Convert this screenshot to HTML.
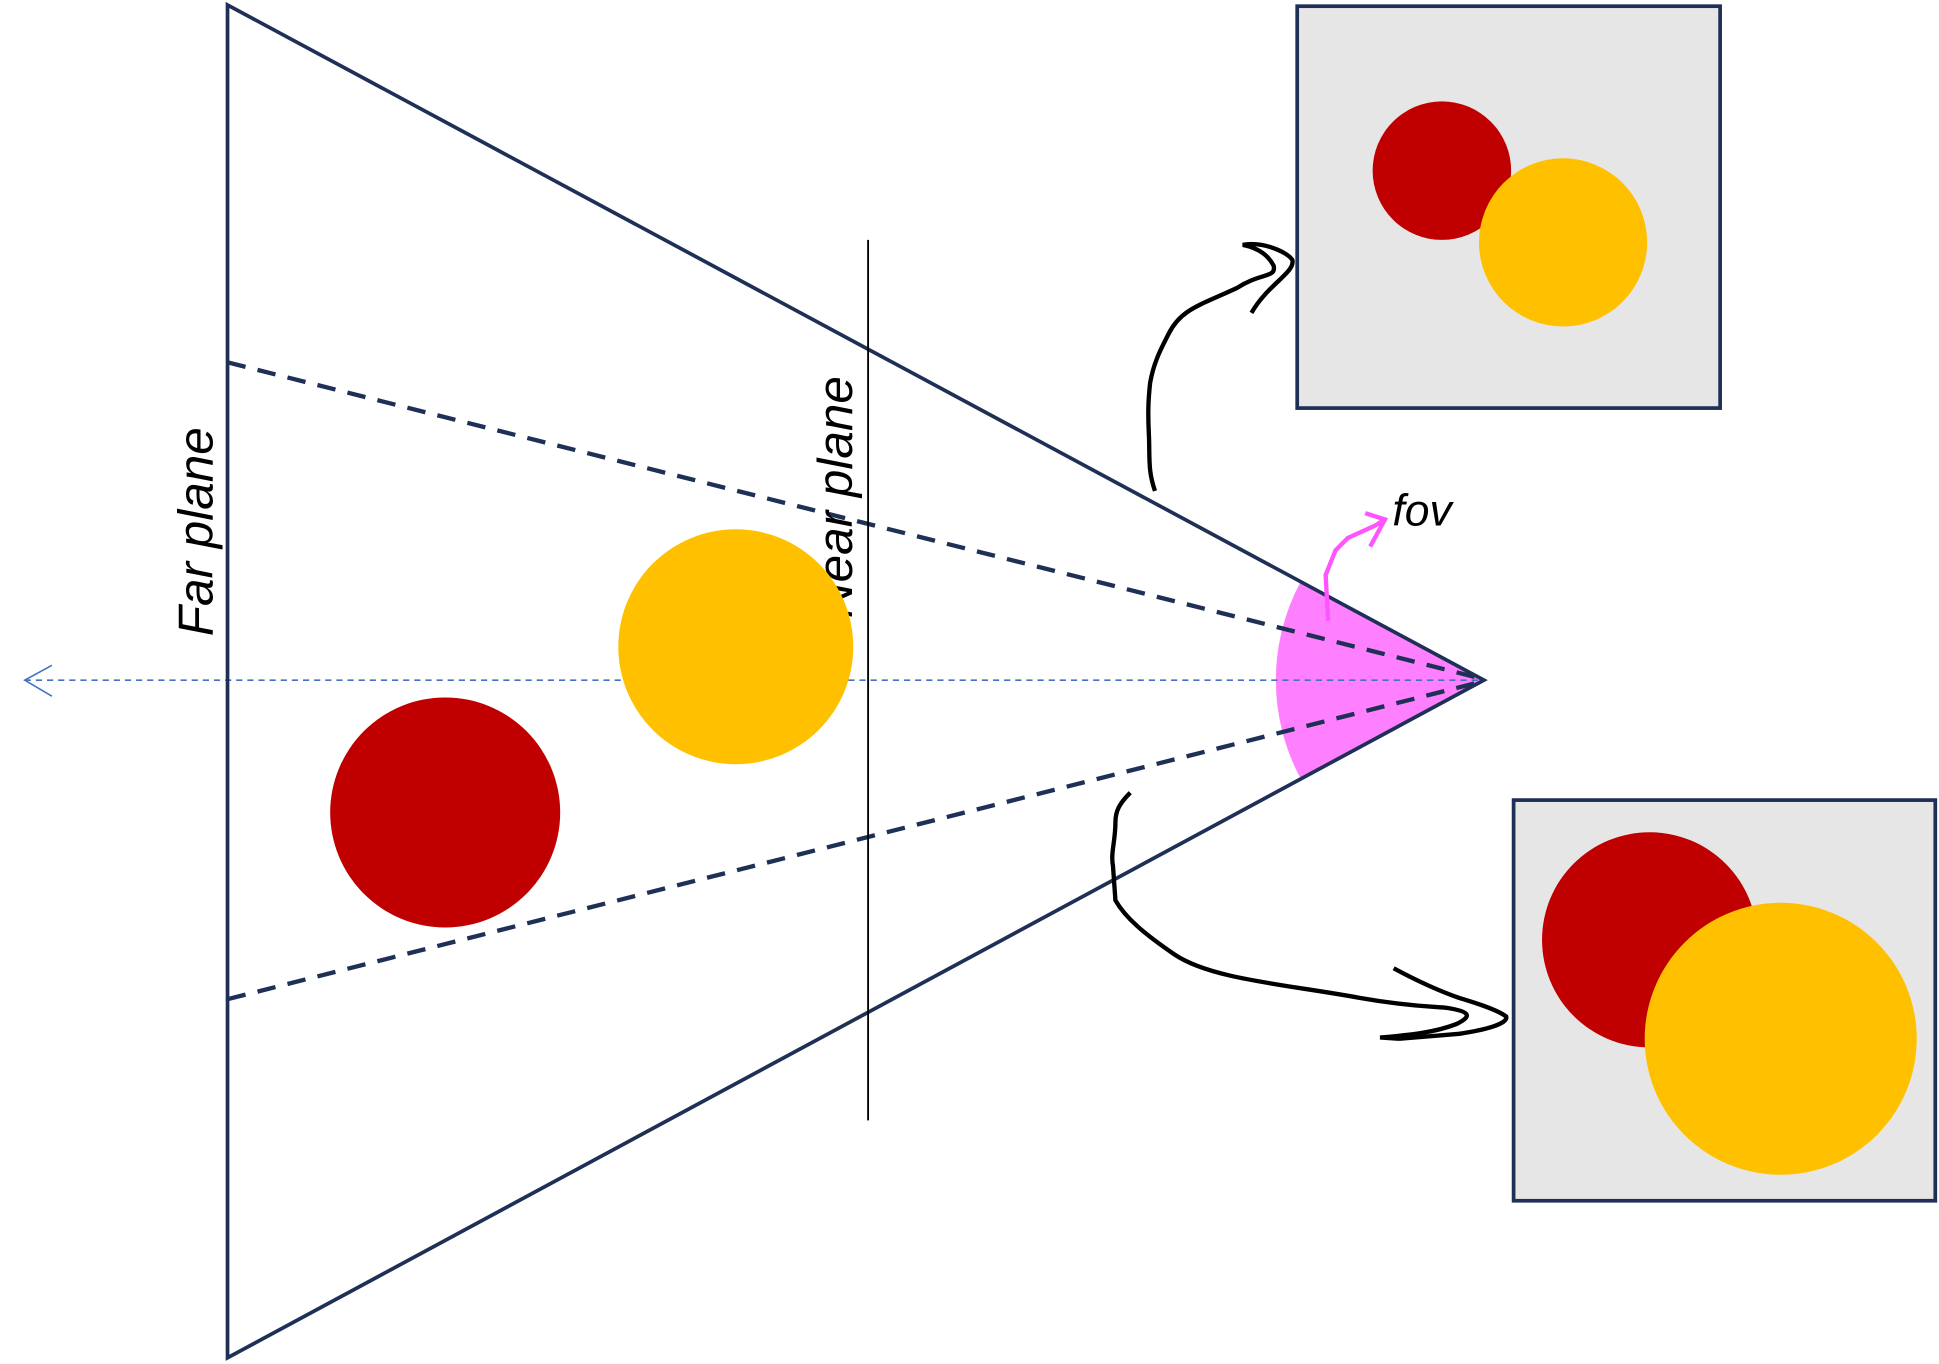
<!DOCTYPE html>
<html><head><style>html,body{margin:0;padding:0;background:#fff;overflow:hidden}svg{display:block}</style></head>
<body>
<svg width="1939" height="1364" viewBox="0 0 1568 1103" xmlns="http://www.w3.org/2000/svg">
<rect width="1568" height="1103" fill="#fff"/>
<path d="M1200,550 L1052,470 A168,168 0 0 0 1052,630 Z" fill="#ff80ff"/>
<line x1="20" y1="550" x2="1200" y2="550" stroke="#4472c4" stroke-width="1.3" stroke-dasharray="5,4"/>
<polyline points="42,538 20,550 42,563" fill="none" stroke="#4472c4" stroke-width="1.3"/>
<polygon points="184,4 1200,550 184,1098" fill="none" stroke="#1f3057" stroke-width="3"/>
<line x1="184" y1="293" x2="1195" y2="548" stroke="#1f3057" stroke-width="3.5" stroke-dasharray="15,10"/>
<line x1="184" y1="808" x2="1195" y2="552" stroke="#1f3057" stroke-width="3.5" stroke-dasharray="15,10"/>
<line x1="702" y1="194" x2="702" y2="906" stroke="#000" stroke-width="1.5"/>
<text transform="translate(172,430) rotate(-90)" text-anchor="middle" font-family="Liberation Sans, sans-serif" font-style="italic" font-size="40">Far plane</text>
<text transform="translate(689,402) rotate(-90)" text-anchor="middle" font-family="Liberation Sans, sans-serif" font-style="italic" font-size="40">Near plane</text>
<circle cx="595" cy="523" r="95" fill="#ffc000"/>
<circle cx="360" cy="657" r="93" fill="#c00000"/>
<rect x="1049" y="5" width="342" height="325" fill="#e6e6e6" stroke="#1f3057" stroke-width="3"/>
<circle cx="1166" cy="138" r="56" fill="#c00000"/>
<circle cx="1264" cy="196" r="68" fill="#ffc000"/>
<rect x="1224" y="647" width="341" height="324" fill="#e6e6e6" stroke="#1f3057" stroke-width="3"/>
<circle cx="1334" cy="760" r="87" fill="#c00000"/>
<circle cx="1440" cy="840" r="110" fill="#ffc000"/>
<text x="1126" y="425" font-family="Liberation Sans, sans-serif" font-style="italic" font-size="36">fov</text>
<path d="M1074,502 L1072,465 L1080,445 L1090,435 L1112,425 L1120,420" fill="none" stroke="#ff55ff" stroke-width="3.5"/>
<path d="M1104,415 L1120,420 L1108,442" fill="none" stroke="#ff55ff" stroke-width="3.5"/>
<path d="M934,397 C928,380 930,370 929,350 C928,330 929,320 930,310 C933,292 940,280 945,270 C955,250 970,247 1000,233 C1020,220 1032,225 1030,215 C1025,205 1015,200 1005,198 C1020,195 1040,203 1045,210 C1048,220 1025,230 1012,253" fill="none" stroke="#000" stroke-width="3.5"/>
<path d="M914,641 C905,650 902,656 902,665 C902,680 898,690 900,700 L902,728 C910,742 925,755 950,772 C980,792 1040,796 1100,807 C1140,814 1160,814 1170,815 C1190,818 1190,822 1178,828 C1160,835 1140,837 1116,839 L1132,840 L1180,836 C1200,833 1220,828 1218,822 C1210,816 1190,810 1180,807 C1160,800 1140,790 1127,783" fill="none" stroke="#000" stroke-width="3.5"/>
</svg>
</body></html>
